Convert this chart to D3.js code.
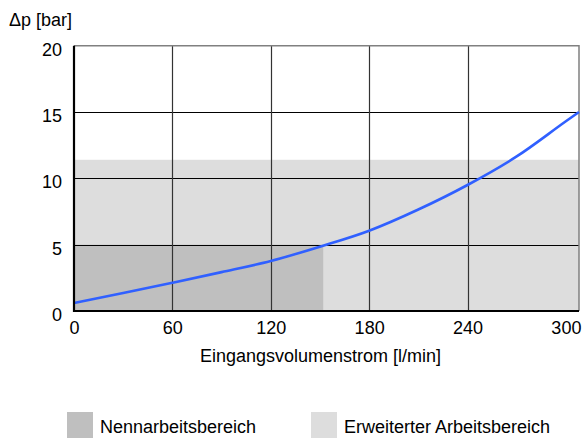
<!DOCTYPE html>
<html>
<head>
<meta charset="utf-8">
<script src="https://cdn.jsdelivr.net/npm/d3@7"></script>
<style>
    body { margin: 0; background: #fff; }
    svg { font-family: 'Liberation Sans', Arial, sans-serif; }
</style>
</head>
<body>
<div id="chart"></div>
<script>
// Flow (l/min) and pressure drop (bar)
let flow = [0, 30, 60, 90, 120, 150, 180, 210, 240, 270, 300, 308];
let dp = [0.6, 1.35, 2.13, 2.93, 3.77, 4.85, 6.05, 7.65, 9.5, 11.65, 14.3, 15.0];

// Operating ranges: [max flow, max dp]
let nennRange = [152, 5];
let erwRange = [308, 11.4];

// Tick values
let xTicks = [0, 60, 120, 180, 240, 300];
let yTicks = [0, 5, 10, 15, 20];

// Legend entries
let legendLabels = ['Nennarbeitsbereich', 'Erweiterter Arbeitsbereich'];

// Colors
let dark_color = '#bfbfbf';
let light_color = '#dddddd';
let line_color = '#3060ff';

const width = 584;
const height = 438;
const fontSize = '18px';

const svg = d3.select('#chart').append('svg')
    .attr('width', width)
    .attr('height', height);

// Scales
const xScale = d3.scaleLinear()
    .domain([0, 308])
    .range([74, 579]);

const yScale = d3.scaleLinear()
    .domain([0, 20])
    .range([311, 45.7]);

// Light grey area (extended range)
svg.append('rect')
    .attr('x', xScale(0))
    .attr('y', yScale(erwRange[1]))
    .attr('width', xScale(erwRange[0]) - xScale(0))
    .attr('height', yScale(0) - yScale(erwRange[1]))
    .attr('fill', light_color);

// Dark grey area (nominal range)
svg.append('rect')
    .attr('x', xScale(0))
    .attr('y', yScale(nennRange[1]))
    .attr('width', xScale(nennRange[0]) - xScale(0))
    .attr('height', yScale(0) - yScale(nennRange[1]))
    .attr('fill', dark_color);

// Horizontal grid lines
svg.selectAll('.hgrid')
    .data(yTicks.filter(d => d > 0 && d < 20))
    .enter().append('line')
    .attr('x1', xScale(0))
    .attr('x2', xScale(308))
    .attr('y1', d => Math.round(yScale(d)) + 0.5)
    .attr('y2', d => Math.round(yScale(d)) + 0.5)
    .attr('stroke', '#000')
    .attr('stroke-width', 1);

// Vertical grid lines
svg.selectAll('.vgrid')
    .data(xTicks.filter(d => d > 0 && d < 300))
    .enter().append('line')
    .attr('x1', d => Math.round(xScale(d)) + 0.5)
    .attr('x2', d => Math.round(xScale(d)) + 0.5)
    .attr('y1', yScale(20))
    .attr('y2', yScale(0))
    .attr('stroke', '#333')
    .attr('stroke-width', 1.2);

// Top and right frame (grey)
svg.append('path')
    .attr('d', `M${xScale(0)},${yScale(20)}H${xScale(308)}V${yScale(0)}`)
    .attr('fill', 'none')
    .attr('stroke', '#808080')
    .attr('stroke-width', 1.5);

// Curve
const line = d3.line()
    .x((d, i) => xScale(flow[i]))
    .y(d => yScale(d))
    .curve(d3.curveMonotoneX);

svg.append('path')
    .datum(dp)
    .attr('d', line)
    .attr('fill', 'none')
    .attr('stroke', line_color)
    .attr('stroke-width', 2.6);

// Left and bottom axis lines
svg.append('path')
    .attr('d', `M${xScale(0)},${yScale(20)}V${yScale(0)}H${xScale(308)}`)
    .attr('fill', 'none')
    .attr('stroke', '#000')
    .attr('stroke-width', 2.2);

// X axis labels
const xAxis = svg.append('g')
    .attr('transform', `translate(0, ${yScale(0)})`)
    .call(d3.axisBottom(xScale).tickValues(xTicks).tickSize(0).tickPadding(10));
xAxis.select('.domain').remove();
xAxis.selectAll('text')
    .style('font-size', fontSize)
    .style('font-family', 'Liberation Sans, Arial, sans-serif')
    .attr('fill', '#000');

// Y axis labels
const yAxis = svg.append('g')
    .attr('transform', `translate(${xScale(0)}, 0)`)
    .call(d3.axisLeft(yScale).tickValues(yTicks).tickSize(0).tickPadding(12));
yAxis.select('.domain').remove();
yAxis.selectAll('text')
    .attr('dy', '0.52em')
    .style('font-size', fontSize)
    .style('font-family', 'Liberation Sans, Arial, sans-serif')
    .attr('fill', '#000');

// Axis titles
svg.append('text')
    .attr('x', 9)
    .attr('y', 26)
    .style('font-size', fontSize)
    .text('Δp [bar]');

svg.append('text')
    .attr('x', 320.5)
    .attr('y', 362)
    .style('text-anchor', 'middle')
    .style('font-size', fontSize)
    .text('Eingangsvolumenstrom [l/min]');

// Legend
const legendX = [67, 311];
const legendColors = [dark_color, light_color];
legendLabels.forEach((label, i) => {
    svg.append('rect')
        .attr('x', legendX[i])
        .attr('y', 412)
        .attr('width', 26)
        .attr('height', 26)
        .attr('fill', legendColors[i]);
    svg.append('text')
        .attr('x', legendX[i] + 33)
        .attr('y', 433)
        .style('font-size', fontSize)
        .text(label);
});
</script>
</body>
</html>
